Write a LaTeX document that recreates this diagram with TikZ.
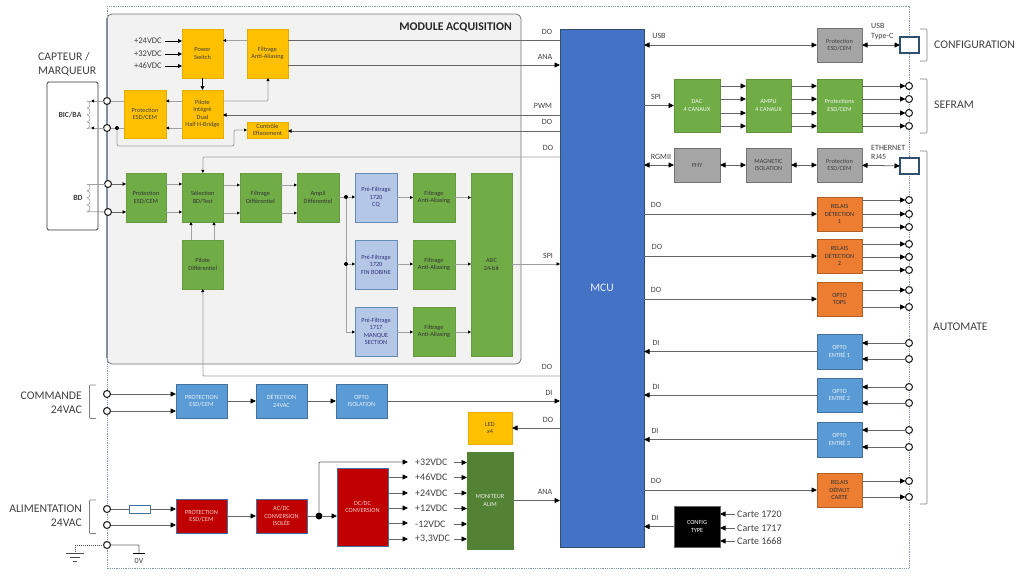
\documentclass[tikz,border=0pt]{standalone}
\usepackage{fontspec}
\setmainfont{Carlito}
\usetikzlibrary{arrows.meta}
\definecolor{cY}{HTML}{FFC000}\definecolor{cG}{HTML}{70AD47}\definecolor{cB}{HTML}{5B9BD5}
\definecolor{cR}{HTML}{C00000}\definecolor{cO}{HTML}{ED7D31}\definecolor{cA}{HTML}{A5A5A5}
\definecolor{cL}{HTML}{B4C7E7}\definecolor{cM}{HTML}{4472C4}\definecolor{cD}{HTML}{548235}
\definecolor{edgeB}{HTML}{41719C}\definecolor{txt}{HTML}{404040}\definecolor{wire}{HTML}{666666}
\definecolor{wireL}{HTML}{A0A0A0}\definecolor{frameB}{HTML}{8497B0}
\tikzset{
 bb/.style={inner sep=0pt,outer sep=0pt,align=center,line width=.6pt,font=\fontsize{6.3}{7.4}\selectfont},
 bY/.style={bb,fill=cY,draw=cY!90!black,text=txt},
 bG/.style={bb,fill=cG,draw=cG!90!black,text=black!80},
 bGw/.style={bb,fill=cG,draw=cG!85!black,text=white!90!cG},
 bB/.style={bb,fill=cB,draw=edgeB,text=white!85!cB},
 bR/.style={bb,fill=cR,draw=edgeB,text=white!80!cR},
 bO/.style={bb,fill=cO,draw=cO!75!black,text=black!80},
 bA/.style={bb,fill=cA,draw=black!55,text=black!75},
 bL/.style={bb,fill=cL,draw=edgeB!70!cL,text=black!65!blue!80},
 bD/.style={bb,fill=cD,draw=cD,text=white!85!cD},
 bK/.style={bb,fill=black,draw=black!60,text=white},
 ln/.style={draw=wire,line width=.8pt},
 lnL/.style={draw=wireL,line width=.8pt},
 arw/.style={ln,-{Triangle[length=5.5pt,width=5pt,color=black]}},
 biw/.style={ln,{Triangle[length=5.5pt,width=5pt,color=black]}-{Triangle[length=5.5pt,width=5pt,color=black]}},
 thk/.style={draw=black,line width=.9pt,-{Triangle[length=4pt,width=4pt,color=black]}},
 sar/.style={lnL,-{Triangle[length=3pt,width=3pt,color=black]}},
 sdk/.style={ln,-{Triangle[length=3.5pt,width=3.5pt,color=black]}},
 term/.style={circle,draw=black!85,fill=white,line width=1.1pt,minimum size=7pt,inner sep=0pt,outer sep=0pt},
 jct/.style={circle,fill=black,minimum size=4pt,inner sep=0pt,outer sep=0pt},
 conn/.style={draw=edgeB!70!black,fill=white,line width=1.1pt,inner sep=0pt,outer sep=0pt},
 lb/.style={inner sep=0pt,text=txt,font=\fontsize{8}{9}\selectfont},
 lbv/.style={inner sep=0pt,text=txt,font=\fontsize{8.6}{9}\selectfont,anchor=east},
 lbp/.style={inner sep=0pt,text=txt,font=\fontsize{10}{11}\selectfont},
 lbb/.style={inner sep=0pt,text=txt,font=\fontsize{11.7}{14}\selectfont},
 brk/.style={draw=black!50,line width=.6pt,rounded corners=.8pt},
 coil/.style={draw=wireL,line width=.6pt},
}
\newcommand{\mybox}[7]{\node[#1,minimum width={#4-#3},minimum height={#6-#5}] (#2) at ({(#3+#4)/2},{(#5+#6)/2}) {#7};}
\newcommand{\coilshape}[1]{\foreach \i in {0,1,2,3}{\draw[coil] (87,{#1+\i*6.9}) .. controls (91,{#1+\i*6.9}) and (91,{#1+(\i+1)*6.9}) .. (87,{#1+(\i+1)*6.9});}}
\begin{document}
\begin{tikzpicture}[x=1pt,y=-1pt]
\useasboundingbox (0,0) rectangle (1024,576);
% module
\node[fill=black!5,draw=black!55,line width=.8pt,rounded corners=5pt,minimum width=414,minimum height=350,inner sep=0pt,outer sep=0pt] (modA) at (314,189) {};
% outer frame
\draw[draw=frameB,line width=.8pt,dash pattern=on .9pt off .9pt] (107,6) rectangle (909,568);
\draw[draw=frameB!70!gray,line width=1.2pt] (107,18) -- (107,358);
\node[anchor=east,inner sep=0pt,text=black!85,font=\bfseries\fontsize{11.8}{13}\selectfont] (tModule) at (512,27) {MODULE ACQUISITION};
% capteur
\node[draw=black!80,line width=.8pt,fill=white,rounded corners=1.5pt,minimum width=51,minimum height=148,inner sep=0pt,outer sep=0pt] (capt) at (72.5,156) {};
\node[lbb,anchor=west,align=left] (tCapt) at (38,64) {CAPTEUR /\\MARQUEUR};
\node[inner sep=0pt,text=txt,font=\bfseries\fontsize{7.8}{9}\selectfont] (tBic) at (70,115) {BIC/BA};
\node[inner sep=0pt,text=txt,font=\bfseries\fontsize{7.8}{9}\selectfont] (tBd) at (78,198) {BD};
% boxes module
\mybox{bY}{ps}{182}{223}{29}{78}{Power\\Switch}
\mybox{bY}{fa}{247}{288}{29}{78}{Filtrage\\Anti-Aliasing}
\mybox{bY}{pa}{124}{166}{90}{138}{Protection\\ESD/CEM}
\mybox{bY}{pi}{182}{223}{90}{138}{Pilote\\Intégré\\Dual\\Half H-Bridge}
\mybox{bY}{ce}{247}{288}{122}{138}{Contrôle\\Effacement}
\mybox{bG}{pb}{126}{166}{173}{222}{Protection\\ESD/CEM}
\mybox{bG}{se}{182}{223.5}{173}{222}{Sélection\\BD/Test}
\mybox{bG}{fd}{240}{281}{173}{222}{Filtrage\\Différentiel}
\mybox{bG}{am}{297}{339}{173}{222}{Ampli\\Différentiel}
\mybox{bG}{pd}{182}{223.5}{240}{289}{Pilote\\Différentiel}
\mybox{bL}{p1}{355}{397}{173}{222}{Pré-Filtrage\\1720\\CQ}
\mybox{bL}{p2}{355}{397}{240}{289}{Pré-Filtrage\\1720\\FIN BOBINE}
\mybox{bL}{p3}{355}{397}{307}{356}{Pré-Filtrage\\1717\\MANQUE\\SECTION}
\mybox{bG}{f1}{413}{455}{173}{222}{Filtrage\\Anti-Aliasing}
\mybox{bG}{f2}{413}{455}{240}{289}{Filtrage\\Anti-Aliasing}
\mybox{bG}{f3}{413}{455}{307}{356}{Filtrage\\Anti-Aliasing}
\mybox{bG}{ad}{471}{512}{173}{356}{ADC\\24-bit}
\node[fill=cM,draw=edgeB!70!black,line width=.5pt,minimum width=84,minimum height=518,inner sep=0pt,outer sep=0pt,text=white!90!cM,font=\fontsize{11.5}{13}\selectfont] (mcu) at (602,288) {MCU};
% lower left
\mybox{bB}{pc}{176}{227}{384}{418}{PROTECTION\\ESD/CEM}
\mybox{bB}{dt}{256}{307}{384}{418}{DÉTECTION\\24VAC}
\mybox{bB}{oi}{336}{387}{384}{418}{OPTO\\ISOLATION}
\mybox{bY}{ld}{468}{512}{412}{444}{LED\\x4}
\mybox{bR}{pr}{176}{227}{499}{533}{PROTECTION\\ESD/CEM}
\mybox{bR}{ac}{256}{307}{499}{533}{AC/DC\\CONVERSION\\ISOLÉE}
\mybox{bR}{dc}{337}{388}{468}{546}{DC/DC\\CONVERSION}
\mybox{bD}{mo}{467}{513}{452}{549}{MONITEUR\\ALIM}
% right
\mybox{bA}{pu}{817}{862}{28}{62}{Protection\\ESD/CEM}
\mybox{bGw}{da}{674}{720}{79}{132}{DAC\\4 CANAUX}
\mybox{bGw}{ap}{746}{791}{79}{132}{AMPLI\\4 CANAUX}
\mybox{bGw}{ps2}{817}{862}{79}{132}{Protections\\ESD/CEM}
\mybox{bA}{ph}{674}{720}{148}{182}{PHY}
\mybox{bA}{mg}{746}{791}{148}{182}{MAGNETIC\\ISOLATION}
\mybox{bA}{pe}{817}{862}{148}{182}{Protection\\ESD/CEM}
\mybox{bO}{r1}{817}{862}{197}{231}{RELAIS\\DÉTECTION\\1}
\mybox{bO}{r2}{817}{862}{239}{273}{RELAIS\\DÉTECTION\\2}
\mybox{bO}{ot}{817}{862}{282}{316}{OPTO\\TOPS}
\mybox{bB}{e1}{817}{862}{334}{369}{OPTO\\ENTRÉ 1}
\mybox{bB}{e2}{817}{862}{378}{412}{OPTO\\ENTRÉ 2}
\mybox{bB}{e3}{817}{862}{422}{457}{OPTO\\ENTRÉ 3}
\mybox{bO}{rd}{817}{862}{473}{507}{RELAIS\\DÉFAUT\\CARTE}
\mybox{bK}{cf}{674}{720}{506}{547}{CONFIG\\TYPE}
% connectors
\node[conn,minimum width=19,minimum height=16] (cu) at (909.5,45) {};
\node[conn,minimum width=19,minimum height=16] (cr) at (909.5,166) {};
\foreach \n/\x/\y in {ta/107/101,tb/107/128,tc/108/184,td/108/212,
 s1/909/86,s2/909/99,s3/909/113,s4/909/126,
 a1/909/200,a2/909/214,a3/909/227,a4/909/244,a5/909/257,a6/909/270,a7/909/290,a8/909/307,
 i1/909/343,i2/909/359,i3/909/387,i4/909/403,i5/909/430,i6/909/447,o1/909/481,o2/909/497,
 k1/107/394,k2/107/411,l1/107/509,l2/107/525,l3/107/545}
 {\node[term] (\n) at (\x,\y) {};}
% coils
\coordinate (ca) at (87,101);\coordinate (cb) at (87,128.6);\coordinate (cc) at (87,184);\coordinate (cd) at (87,211.6);
\coilshape{101}\coilshape{184}
\coordinate (ca2) at (91,101);\coordinate (cb2) at (91,128);
\draw[sar] (ta) -- (ca2); \draw[sar] (tb) -- (cb2);
\draw[coil] (ca2) -- (ca); \draw[coil] (cb2) -- (cb);
\draw[lnL] (tc) -- (cc); \draw[lnL] (td) -- (cd);
% module wires
\foreach \y/\t in {41/+24VDC,54/+32VDC,66/+46VDC}{
 \node[lbv] (v\y) at (162,\y) {\t};
 \draw[thk] (v\y.east) ++(3,0) -- (ps.west |- v\y);}
\draw[thk] (ps) -- (pi);
\draw[ln] (mcu.west |- 0,40) -- (fa.east |- 0,40);
\draw[sar] (fa.west |- 0,40.5) -- (ps.east |- 0,40.5);
\draw[arw] (fa.east |- 0,65) -- (mcu.west |- 0,65);
\draw[sar,rounded corners=1pt] (pi.east |- 0,101) -- (268,101) -- (fa.south -| 268,0);
\draw[sdk] (mcu.west |- 0,115) -- (pi.east |- 0,115);
\draw[sdk] (mcu.west |- 0,131) -- (ce.east |- 0,131);
\draw[sar] (pi.west |- ta) -- (pa.east |- ta);
\draw[sar] (pi.west |- tb) -- (pa.east |- tb);
\draw[lnL] (pa.west |- ta) -- (ta);
\draw[lnL] (pa.west |- tb) -- (tb);
\node[jct] (dj) at (117,128) {};
\draw[sar,rounded corners=2pt] (dj) -- (117,146) -- (234,146) -- (234,130) -- (ce.west |- 0,130);
\draw[lnL,rounded corners=1pt] (mcu.west |- 0,157) -- (203,157) -- (203,165);
\draw[sar] (203,165) -- (se.north);
\draw[sdk] (tc) -- (pb.west |- tc);
\draw[sdk] (td) -- (pb.west |- td);
\foreach \y in {184,212}{
 \draw[sar] (pb.east |- 0,\y) -- (se.west |- 0,\y);
 \draw[sar] (se.east |- 0,\y+1) -- (fd.west |- 0,\y+1);
 \draw[sar] (fd.east |- 0,\y+1) -- (am.west |- 0,\y+1);}
\draw[sar] (pd.north -| 191,0) -- (se.south -| 191,0);
\draw[sar] (pd.north -| 214,0) -- (se.south -| 214,0);
\draw[lnL,rounded corners=1pt] (mcu.west |- 0,376) -- (203,376) -- (203,300);
\draw[sar] (203,300) -- (pd.south);
\node[jct] (j1) at (346,197) {};
\node[jct] (j2) at (346,264) {};
\coordinate (j3) at (346,332);
\draw[lnL] (am.east |- j1) -- (j1);
\draw[lnL] (j1) -- (j2) -- (j3);
\draw[sar] (j1) -- (p1.west |- j1);
\draw[sar] (j2) -- (p2.west |- j2);
\draw[sar] (j3) -- (p3.west |- j3);
\draw[sar] (p1) -- (f1);\draw[sar] (p2.east |- j2) -- (f2.west |- j2);\draw[sar] (p3.east |- j3) -- (f3.west |- j3);
\draw[sar] (f1.east) -- (ad.west |- f1);\draw[sar] (f2.east |- j2) -- (ad.west |- j2);\draw[sar] (f3.east |- j3) -- (ad.west |- j3);
\draw[sdk,lnL] (ad.east |- j2) -- (mcu.west |- j2);
% labels
\foreach \n/\x/\y/\t in {n1/547/32/DO,n2/545/57/ANA,n3/543/106/PWM,n4/547/122/DO,n5/548/148/DO,n6/548/256/SPI,n7/547/367/DO,n8/549/393/DI,n9/548/420/DO,n10/545/492/ANA,
 n11/659/36/USB,n12/656/97/SPI,n13/661/157/RGMII,n14/656/205/DO,n15/657/247/DO,n16/656/290/DO,
 n17/656/343/DI,n18/656/387/DI,n19/655/431/DI,n20/656/481/DO,n21/655/518/DI}
 {\node[lb] (\n) at (\x,\y) {\t};}
% lower left wires
\draw[arw] (k1) -- (pc.west |- k1);
\draw[arw] (k2) -- (pc.west |- k2);
\draw[arw] (pc) -- (dt);
\draw[arw] (dt) -- (oi);
\draw[arw] (oi) -- (mcu.west |- oi);
\draw[arw] (mcu.west |- ld) -- (ld);
\node[draw=edgeB,fill=white,line width=.7pt,minimum width=21,minimum height=8,inner sep=0pt,outer sep=0pt] (fu) at (139.5,509) {};
\draw[ln] (l1) -- (fu);
\draw[arw] (fu) -- (pr.west |- fu);
\draw[arw] (l2) -- (pr.west |- l2);
\draw[arw] (pr) -- (ac);
\node[circle,fill=black,minimum size=7pt,inner sep=0pt,outer sep=0pt] (jd) at (319,516) {};
\draw[ln] (ac) -- (jd);
\draw[arw] (jd) -- (dc.west |- jd);
\foreach \n/\y/\t in {1/462.5/+32VDC,2/477.5/+46VDC,3/493/+24VDC,4/508.5/+12VDC,5/524/-12VDC,6/539/{+3,3VDC}}{
 \node[lbp,anchor=west] (u\n) at (415,\y) {\t};
 \draw[arw] (454,\y) -- (mo.west |- 0,\y);}
\draw[arw,rounded corners=1pt] (jd) -- (319,462) -- (408,462);
\foreach \y in {477,493,508,523,539}{\draw[arw] (dc.east |- 0,\y) -- (408,\y);}
\draw[arw] (mo.east |- 0,500.5) -- (mcu.west |- 0,500.5);
% ground
\coordinate (gn) at (75,553);
\draw[draw=black!70,line width=.6pt,dash pattern=on 1pt off 1pt] (l3) -- (75,545) -- (gn);
\draw[draw=black!70,line width=.7pt] (66,553) -- (84,553) (70,557) -- (80,557) (73,561) -- (77,561);
\coordinate (zn) at (139,553);
\draw[ln,rounded corners=.5pt] (l3) -- (139,545) -- (zn);
\draw[draw=black,line width=1.6pt] (133,553.5) -- (145,553.5);
\node[lb] (t0v) at (139,560.5) {0V};
\node[lbb,anchor=east,align=right] (tCom) at (82,403) {COMMANDE\\24VAC};
\node[lbb,anchor=east,align=right] (tAli) at (82,516) {ALIMENTATION\\24VAC};
\draw[brk] (96,385) -- (89.5,385) -- (89.5,418.5) -- (96,418.5);
\draw[brk] (96,500) -- (89.5,500) -- (89.5,533.5) -- (96,533.5);
% right wires
\draw[biw] (mcu.east |- pu) -- (pu);
\draw[biw] (pu) -- (cu);
\node[inner sep=0pt,text=txt,align=left,anchor=west,font=\fontsize{8}{10}\selectfont] (tUsb) at (871,32) {USB\\Type-C};
\node[inner sep=0pt,text=txt,align=left,anchor=west,font=\fontsize{8}{9.4}\selectfont] (tEth) at (871,152.5) {ETHERNET\\RJ45};
\draw[arw] (mcu.east |- da) -- (da);
\foreach \y/\t in {86/s1,99/s2,113/s3,126/s4}{
 \draw[arw] (da.east |- \t) -- (ap.west |- \t);
 \draw[arw] (ap.east |- \t) -- (ps2.west |- \t);
 \draw[arw] (ps2.east |- \t) -- (\t);}
\draw[biw] (mcu.east |- ph) -- (ph);
\draw[biw] (ph) -- (mg);
\draw[biw] (mg) -- (pe);
\draw[biw] (pe) -- (cr);
\draw[arw] (mcu.east |- r1) -- (r1);
\draw[arw] (mcu.east |- r2) -- (r2);
\draw[arw] (mcu.east |- ot) -- (ot);
\draw[arw] (mcu.east |- rd) -- (rd);
\foreach \t/\b in {a1/r1,a2/r1,a3/r1,a4/r2,a5/r2,a6/r2,a7/ot,a8/ot,o1/rd,o2/rd}{\draw[arw] (\b.east |- \t) -- (\t);}
\foreach \t/\b in {i1/e1,i2/e1,i3/e2,i4/e2,i5/e3,i6/e3}{\draw[arw] (\t) -- (\b.east |- \t);}
\draw[arw] (e1) -- (mcu.east |- e1);
\draw[arw] (e2) -- (mcu.east |- e2);
\draw[arw] (e3) -- (mcu.east |- e3);
\draw[arw] (cf) -- (mcu.east |- cf);
\foreach \n/\y/\t in {1/514/Carte 1720,2/528/Carte 1717,3/541/Carte 1668}{
 \node[lbp,anchor=west] (w\n) at (737,\y) {\t};
 \draw[ln,-{Triangle[length=5.5pt,width=5pt,color=black]}] (w\n.west) ++(-2,0) -- (cf.east |- w\n);}
% brackets right
\draw[brk] (920,29) -- (927,29) -- (927,61) -- (920,61);
\draw[brk] (920,79) -- (927,79) -- (927,133) -- (920,133);
\draw[brk] (920,151) -- (927,151) -- (927,504) -- (920,504);
\node[lbb,anchor=west] (tCfg) at (934,45) {CONFIGURATION};
\node[lbb,anchor=west] (tSef) at (934,105) {SEFRAM};
\node[lbb,anchor=west] (tAut) at (933,327) {AUTOMATE};
\end{tikzpicture}
\end{document}
